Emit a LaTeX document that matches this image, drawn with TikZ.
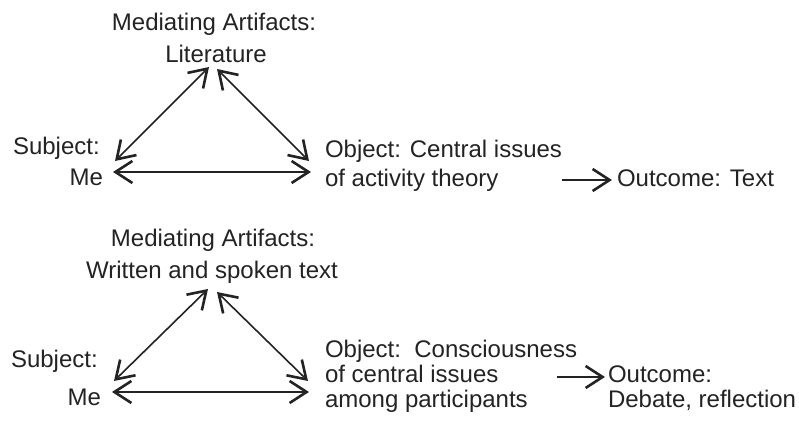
\documentclass[tikz,border=0pt]{standalone}
\usepackage{fontspec}
\setmainfont{Liberation Sans}
\usetikzlibrary{arrows.meta}
\definecolor{ink}{RGB}{35,35,35}
\begin{document}
\begin{tikzpicture}[x=0.5pt,y=-0.5pt,
  txt/.style={inner sep=0pt,outer sep=0pt,text=ink,font=\fontsize{12pt}{14pt}\selectfont},
  barb/.tip={Straight Barb[length=8.5pt,width=11pt,line width=1.3pt]},
  twoway/.style={draw=ink,line width=0.8pt,barb-barb},
  oneway/.style={draw=ink,line width=1pt,-barb}]
\useasboundingbox[fill=white] (0,0) rectangle (799,426);

% ---------- top system ----------
\node[txt,anchor=base] (ma1) at (214,31) {Mediating Artifacts:};
\node[txt,anchor=base] (ma1b) at (216,63) {Literature};
\node[txt,anchor=base west] (s1) at (13,155) {Subject:};
\node[txt,anchor=base east] (s1b) at (103,186) {Me};
\node[txt,anchor=base west] (o1) at (325,158) {Object: Central issues};
\node[txt,anchor=base west] (o1b) at (325,187) {of activity theory};
\node[txt,anchor=base west] (out1) at (617,187) {Outcome: Text};

\coordinate (t1l) at (209,67);
\coordinate (t1r) at (217,69);
\coordinate (l1d) at (115,161);
\coordinate (r1d) at (309,161);
\coordinate (l1h) at (113,172);
\coordinate (r1h) at (311,172);
\coordinate (a1s) at (562,180);

\draw[twoway] (t1l) -- (l1d);
\draw[twoway] (t1r) -- (r1d);
\draw[twoway] (l1h) -- (r1h);
\draw[oneway,shorten >=2.5pt] (a1s) -- (out1.west |- a1s);

% ---------- bottom system ----------
\node[txt,anchor=base] (ma2) at (213,247) {Mediating Artifacts:};
\node[txt,anchor=base] (ma2b) at (212,279) {Written and spoken text};
\node[txt,anchor=base west] (s2) at (11,368) {Subject:};
\node[txt,anchor=base east] (s2b) at (101,406) {Me};
\node[txt,anchor=base west] (o2) at (325,358) {Object:\ \ Consciousness};
\node[txt,anchor=base west] (o2b) at (325,383) {of central issues};
\node[txt,anchor=base west] (o2c) at (325,408) {among participants};
\node[txt,anchor=base west] (out2) at (608,383) {Outcome:};
\node[txt,anchor=base west] (out2b) at (608,408) {Debate, reflection};

\coordinate (t2l) at (208,289);
\coordinate (t2r) at (217,292);
\coordinate (l2d) at (114,381);
\coordinate (r2d) at (308,381);
\coordinate (l2h) at (112,392);
\coordinate (r2h) at (309,392);
\coordinate (a2s) at (557,377);

\draw[twoway] (t2l) -- (l2d);
\draw[twoway] (t2r) -- (r2d);
\draw[twoway] (l2h) -- (r2h);
\draw[oneway,shorten >=1.5pt] (a2s) -- (out2.west |- a2s);
\end{tikzpicture}
\end{document}
